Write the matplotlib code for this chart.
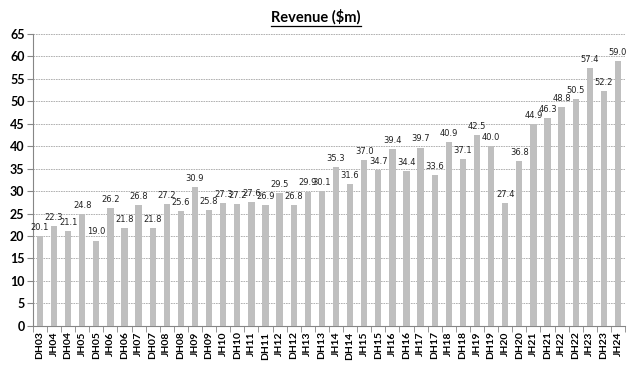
import numpy as np
import matplotlib
matplotlib.use("Agg")
import matplotlib.pyplot as plt
from matplotlib.lines import Line2D

periods = [
    "DH03", "JH04", "DH04", "JH05", "DH05", "JH06", "DH06", "JH07", "DH07",
    "JH08", "DH08", "JH09", "DH09", "JH10", "DH10", "JH11", "DH11", "JH12",
    "DH12", "JH13", "DH13", "JH14", "DH14", "JH15", "DH15", "JH16", "DH16",
    "JH17", "DH17", "JH18", "DH18", "JH19", "DH19", "JH20", "DH20", "JH21",
    "DH21", "JH22", "DH22", "JH23", "DH23", "JH24",
]
revenue = [
    20.1, 22.3, 21.1, 24.8, 19.0, 26.2, 21.8, 26.8, 21.8,
    27.2, 25.6, 30.9, 25.8, 27.3, 27.2, 27.6, 26.9, 29.5,
    26.8, 29.9, 30.1, 35.3, 31.6, 37.0, 34.7, 39.4, 34.4,
    39.7, 33.6, 40.9, 37.1, 42.5, 40.0, 27.4, 36.8, 44.9,
    46.3, 48.8, 50.5, 57.4, 52.2, 59.0,
]
y_ticks = list(range(0, 70, 5))

BAR_COLOR = "#BFBFBF"
GRID_COLOR = "#A6A6A6"
AXIS_COLOR = "#868686"

fig = plt.figure(figsize=(6.32, 3.72), dpi=100)
ax = fig.add_axes([0.052, 0.124, 0.937, 0.785])

x = np.arange(len(periods))
ax.bar(x, revenue, width=0.45, color=BAR_COLOR, zorder=3)

for xi, v in zip(x, revenue):
    ax.text(xi, v + 0.9, f"{v:.1f}", ha="center", va="bottom",
            fontsize=6, family="DejaVu Sans", color="#222222", zorder=4)

ax.set_xlim(-0.5, len(periods) - 0.5)
ax.set_ylim(0, 65)
ax.set_yticks(y_ticks)
ax.set_yticklabels([str(t) for t in y_ticks], fontsize=9, fontweight="bold",
                   family="Lato")
ax.yaxis.grid(True, linestyle=(0, (2, 1)), color=GRID_COLOR, linewidth=0.6,
              zorder=0)

ax.set_xticks(x)
ax.set_xticklabels(periods, rotation=90, fontsize=7.5, fontweight="bold",
                   family="Lato")
ax.set_xticks(np.arange(-0.5, len(periods)), minor=True)
ax.tick_params(axis="x", which="major", length=0, pad=4)
ax.tick_params(axis="x", which="minor", length=4, color=AXIS_COLOR,
               direction="out")
ax.tick_params(axis="y", length=4, color=AXIS_COLOR, direction="out", pad=2)

for side in ("top", "right"):
    ax.spines[side].set_visible(False)
for side in ("left", "bottom"):
    ax.spines[side].set_color(AXIS_COLOR)
    ax.spines[side].set_linewidth(0.8)

title = fig.text(0.5, 0.955, "Revenue ($m)", ha="center", va="center",
                 fontsize=10.5, fontweight="bold", family="Lato")
fig.canvas.draw()
bb = title.get_window_extent().transformed(fig.transFigure.inverted())
fig.add_artist(Line2D([bb.x0, bb.x1], [bb.y0 - 0.004, bb.y0 - 0.004],
                      transform=fig.transFigure, color="black", linewidth=0.9))

fig.savefig("out.png", dpi=100)
